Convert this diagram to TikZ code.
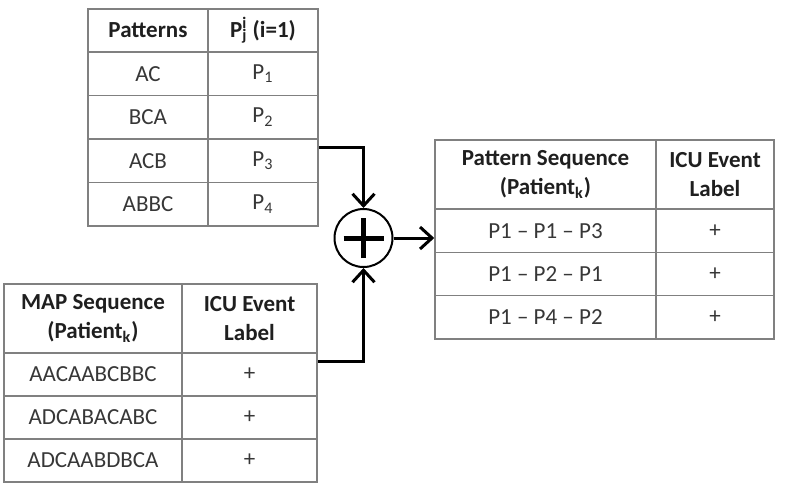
\documentclass[tikz,border=0pt]{standalone}
\usepackage{fontspec}
\setmainfont{Carlito}
\usepackage{tikz}
\usetikzlibrary{arrows.meta}
\pgfdeclarelayer{edgelayer}
\pgfdeclarelayer{nodelayer}
\pgfsetlayers{edgelayer,nodelayer,main}
\definecolor{rule}{RGB}{128,128,128}
\definecolor{ink}{RGB}{55,55,55}
\tikzstyle{cell}=[draw=rule, line width=0.75pt, fill=white, inner sep=0pt, align=center, text=ink, font=\fontsize{11.5}{14.5}\selectfont]
\tikzstyle{headcell}=[cell, font=\fontsize{11.5}{14.5}\selectfont\bfseries, text=black!88]
\tikzstyle{flow}=[draw=black, line width=1.5pt, -{Straight Barb[length=6pt,width=11pt,line width=1.5pt]}]
\tikzstyle{sumnode}=[circle, draw=black, line width=1pt, fill=white, minimum size=29pt, inner sep=0pt,
  path picture={\draw[line width=2.5pt] ([xshift=-10pt]path picture bounding box.center) -- ([xshift=10pt]path picture bounding box.center)
    ([yshift=-10pt]path picture bounding box.center) -- ([yshift=10pt]path picture bounding box.center);}]

\begin{document}
\begin{tikzpicture}[x=0.5pt, y=-0.5pt]
	\useasboundingbox (0,0) rectangle (785,483);
	\begin{pgfonlayer}{nodelayer}
		% patterns
		\node [style=headcell, minimum width=60pt, minimum height=21.5pt] (1) at (148, 30.5) {Patterns};
		\node [style=headcell, minimum width=55pt, minimum height=21.5pt] (2) at (263, 30.5) {P\rlap{\textsuperscript{i}}\textsubscript{j} (i=1)};
		\node [style=cell, minimum width=60pt, minimum height=21.75pt] (3) at (148, 73.75) {AC};
		\node [style=cell, minimum width=55pt, minimum height=21.75pt] (4) at (263, 73.75) {P\textsubscript{1}};
		\node [style=cell, minimum width=60pt, minimum height=21.75pt] (5) at (148, 117.25) {BCA};
		\node [style=cell, minimum width=55pt, minimum height=21.75pt] (6) at (263, 117.25) {P\textsubscript{2}};
		\node [style=cell, minimum width=60pt, minimum height=21.75pt] (7) at (148, 160.75) {ACB};
		\node [style=cell, minimum width=55pt, minimum height=21.75pt] (8) at (263, 160.75) {P\textsubscript{3}};
		\node [style=cell, minimum width=60pt, minimum height=21.75pt] (9) at (148, 204.25) {ABBC};
		\node [style=cell, minimum width=55pt, minimum height=21.75pt] (10) at (263, 204.25) {P\textsubscript{4}};
		% MAP sequences
		\node [style=headcell, minimum width=89pt, minimum height=34.5pt] (11) at (93, 318.5) {MAP Sequence\\(Patient\textsubscript{k})};
		\node [style=headcell, minimum width=67.5pt, minimum height=34.5pt] (12) at (249.5, 318.5) {ICU Event\\Label};
		\node [style=cell, minimum width=89pt, minimum height=21.5pt] (13) at (93, 374.5) {AACAABCBBC};
		\node [style=cell, minimum width=67.5pt, minimum height=21.5pt] (14) at (249.5, 374.5) {+};
		\node [style=cell, minimum width=89pt, minimum height=21.5pt] (15) at (93, 417.5) {ADCABACABC};
		\node [style=cell, minimum width=67.5pt, minimum height=21.5pt] (16) at (249.5, 417.5) {+};
		\node [style=cell, minimum width=89pt, minimum height=21.5pt] (17) at (93, 460.5) {ADCAABDBCA};
		\node [style=cell, minimum width=67.5pt, minimum height=21.5pt] (18) at (249.5, 460.5) {+};
		% pattern sequences
		\node [style=headcell, minimum width=110.5pt, minimum height=34.5pt] (19) at (545.5, 174.5) {Pattern Sequence\\(Patient\textsubscript{k})};
		\node [style=headcell, minimum width=59pt, minimum height=34.5pt] (20) at (715, 174.5) {ICU Event\\Label};
		\node [style=cell, minimum width=110.5pt, minimum height=21.67pt] (21) at (545.5, 230.67) {P1 -- P1 -- P3};
		\node [style=cell, minimum width=59pt, minimum height=21.67pt] (22) at (715, 230.67) {+};
		\node [style=cell, minimum width=110.5pt, minimum height=21.67pt] (23) at (545.5, 274) {P1 -- P2 -- P1};
		\node [style=cell, minimum width=59pt, minimum height=21.67pt] (24) at (715, 274) {+};
		\node [style=cell, minimum width=110.5pt, minimum height=21.67pt] (25) at (545.5, 317.33) {P1 -- P4 -- P2};
		\node [style=cell, minimum width=59pt, minimum height=21.67pt] (26) at (715, 317.33) {+};
		% combine
		\node [style=sumnode] (27) at (363.5, 238) {};
	\end{pgfonlayer}
	\begin{pgfonlayer}{edgelayer}
		\draw [style=flow] ([yshift=6.5pt]8.east) -| (27.north);
		\draw [style=flow] ([yshift=6.5pt]14.east) -| (27.south);
		\draw [style=flow] (27.east) -- (27.east -| 21.west);
	\end{pgfonlayer}
\end{tikzpicture}
\end{document}
